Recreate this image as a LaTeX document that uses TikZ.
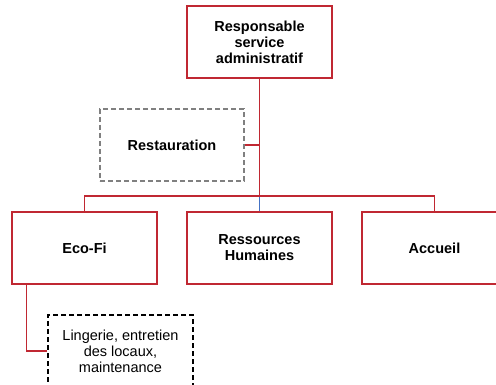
\documentclass[tikz,border=0pt]{standalone}
\usepackage{fontspec}
\setmainfont{Liberation Sans}
\definecolor{boxred}{RGB}{192,40,50}
\definecolor{linkblue}{RGB}{68,114,196}
\definecolor{dashgray}{RGB}{128,128,128}
\begin{document}
\begin{tikzpicture}[x=1pt,y=-1pt,
  unit/.style={draw=boxred,line width=1.3pt,minimum width=145pt,minimum height=72pt,align=center,font=\bfseries\fontsize{14.5}{16}\selectfont,inner sep=2pt},
  side/.style={draw=dashgray,line width=1.3pt,dash pattern=on 5pt off 3pt,minimum width=144pt,minimum height=72pt,align=center,font=\bfseries\fontsize{14.5}{16}\selectfont},
  subside/.style={draw=black,line width=1.1pt,dash pattern=on 5pt off 3pt,minimum width=145pt,minimum height=72pt,align=center,font=\fontsize{14.5}{16}\selectfont},
  link/.style={draw=boxred,line width=1.3pt}]
\useasboundingbox (0,0) rectangle (496,385);
\clip (0,0) rectangle (496,385);
\fill[white] (0,0) rectangle (496,385);
\node[unit] (top) at (259.5,42) {Responsable\\service\\administratif};
\node[side] (resto) at (172,145) {Restauration};
\node[unit] (eco) at (84.5,248) {Eco-Fi};
\node[unit] (rh) at (259.5,248) {Ressources\\Humaines};
\node[unit] (acc) at (434.5,248) {Accueil};
\node[subside] (ling) at (120.5,351) {Lingerie, entretien\\des locaux,\\maintenance};
\coordinate (bar) at (259.5,196);
\draw[link] (top.south) -- (bar);
\draw[link] (resto.east) -- (resto.east -| top.south);
\draw[draw=linkblue,line width=1.3pt] (bar) -- (rh.north);
\draw[link] (eco.north) |- (bar) -| (acc.north);
\draw[link] (eco.south west) ++(15,0) coordinate (ecofoot) |- (ling.west);
\end{tikzpicture}
\end{document}
